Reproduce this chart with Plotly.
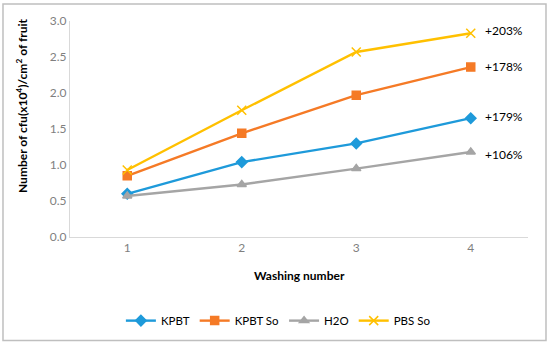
import plotly.graph_objects as go

washing = [1, 2, 3, 4]
kpbt = [0.60, 1.04, 1.30, 1.65]
kpbt_so = [0.85, 1.44, 1.97, 2.36]
h2o = [0.57, 0.73, 0.95, 1.18]
pbs_so = [0.93, 1.76, 2.57, 2.83]
series_names = ["KPBT", "KPBT So", "H2O", "PBS So"]
end_labels = ["+179%", "+178%", "+106%", "+203%"]
label_y = [1.68, 2.37, 1.15, 2.87]

colors = ["#1E9ADA", "#F57A26", "#A5A5A5", "#FFC000"]
symbols = ["diamond", "square", "triangle-up", "x-thin-open"]
sizes = [8, 8, 8, 9]

fig = go.Figure()
for name, vals, c, s, sz in zip(series_names, [kpbt, kpbt_so, h2o, pbs_so], colors, symbols, sizes):
    fig.add_trace(go.Scatter(
        x=washing, y=vals, name=name, mode="lines+markers",
        line=dict(color=c, width=2.4),
        marker=dict(symbol=s, size=sz, color=c, line=dict(color=c, width=1.5)),
    ))

for lab, ly in zip(end_labels, label_y):
    fig.add_annotation(x=4, y=ly, xref="x", yref="y", text=lab, showarrow=False,
                       xanchor="left", xshift=12, font=dict(size=12, color="#000000"))

# axis titles as annotations for exact placement
fig.add_annotation(xref="paper", yref="paper", x=-0.105, y=0.606, textangle=-90,
                   text="<b>Number of cfu(x10<sup>4</sup>)/cm<sup>2</sup> of fruit</b>",
                   showarrow=False, font=dict(size=12, color="#000"),
                   xanchor="center", yanchor="middle")
fig.add_annotation(xref="paper", yref="paper", x=0.502, y=-0.176,
                   text="<b>Washing number</b>", showarrow=False,
                   font=dict(size=12, color="#000"), xanchor="center", yanchor="middle")

fig.update_layout(
    width=550, height=344,
    margin=dict(l=70, r=22, t=21, b=107, autoexpand=False),
    paper_bgcolor="white", plot_bgcolor="white",
    font=dict(family="Lato, Carlito, sans-serif", size=12, color="#000"),
    showlegend=True,
    legend=dict(orientation="h", x=0.455, xanchor="center", y=-0.32, yanchor="top",
                font=dict(size=11.5), itemwidth=30, tracegroupgap=0),
    shapes=[dict(type="rect", xref="paper", yref="paper", x0=-0.1463, x1=1.0393,
                 y0=-0.479, y1=1.079, line=dict(color="#BFBFBF", width=1.5))],
)
fig.update_xaxes(
    range=[0.5, 4.5], tickvals=washing, ticktext=[str(w) for w in washing],
    showgrid=False, zeroline=False, showline=True, linecolor="#D9D9D9", linewidth=1,
    tickfont=dict(color="#7F7F7F", size=12), ticks="", automargin=False,
)
fig.update_yaxes(
    range=[0, 3.0], tickvals=[0, 0.5, 1.0, 1.5, 2.0, 2.5, 3.0], tickformat=".1f",
    showgrid=False, zeroline=False, showline=True, linecolor="#D9D9D9", linewidth=1,
    tickfont=dict(color="#7F7F7F", size=12), ticks="", automargin=False,
)

fig.write_html("out.html", config={"displayModeBar": False},
               post_script="document.body.style.margin='0';")
